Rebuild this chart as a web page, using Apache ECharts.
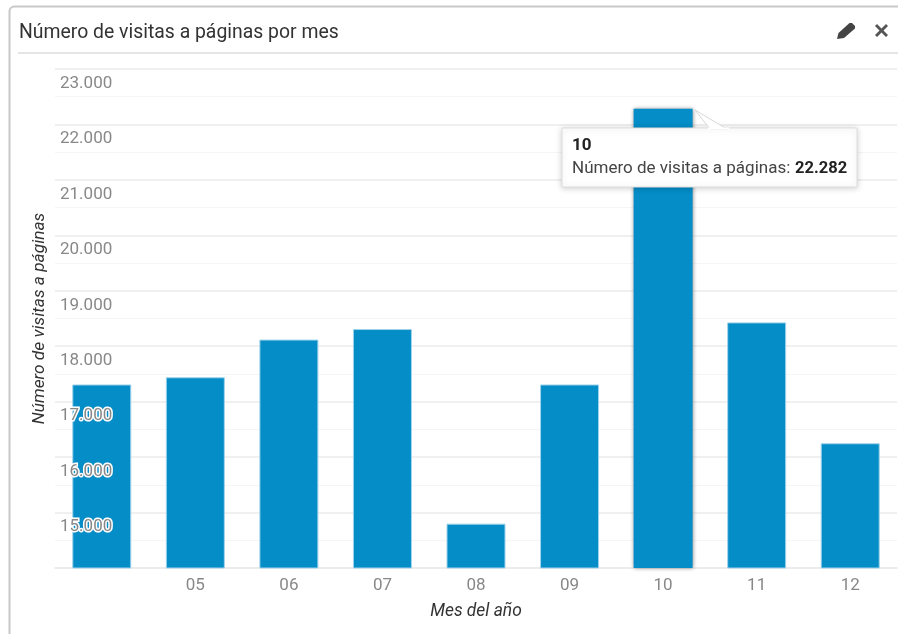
<!DOCTYPE html>
<html>
<head>
<meta charset="utf-8">
<style>html,body{margin:0;padding:0;background:#fff;overflow:hidden}#c{width:898px;height:634px}</style>
<script src="https://cdn.jsdelivr.net/npm/echarts@6/dist/echarts.min.js"></script>
</head>
<body>
<div id="c"></div>
<script>
const panelTitle = 'Número de visitas a páginas por mes';
const xAxisName = 'Mes del año';
const yAxisName = 'Número de visitas a páginas';
const monthLabels = ['', '05', '06', '07', '08', '09', '10', '11', '12'];
const pageVisits = [17310, 17440, 18120, 18310, 14800, 17310, 22282, 18430, 16250];
const selectedIndex = 6;
const seriesName = 'Número de visitas a páginas';

const fmt = v => String(v).replace(/\B(?=(\d{3})+$)/g, '.');
const font = 'Roboto';
const chart = echarts.init(document.getElementById('c'), null, {renderer: 'canvas'});
chart.setOption({
  animation: false,
  backgroundColor: '#fff',
  title: {
    text: panelTitle, left: 14, top: 19,
    textStyle: {fontFamily: font, fontSize: 19.4, fontWeight: 'normal', color: '#333'}
  },
  grid: {left: 55, right: 1, top: 69, bottom: 66},
  xAxis: {
    type: 'category',
    data: monthLabels,
    name: xAxisName,
    nameLocation: 'middle',
    nameGap: 35,
    nameTextStyle: {fontFamily: font, fontSize: 17.4, fontStyle: 'italic', color: '#333'},
    axisTick: {show: false},
    axisLine: {lineStyle: {color: '#ececec', width: 2}},
    axisLabel: {fontFamily: font, fontSize: 17, color: '#888', margin: 9, interval: 0}
  },
  yAxis: [{
    type: 'value',
    min: 14000, max: 23000, interval: 1000,
    name: yAxisName,
    nameLocation: 'middle',
    nameGap: 7,
    nameTextStyle: {fontFamily: font, fontSize: 17.3, fontStyle: 'italic', color: '#333'},
    axisLine: {show: false},
    axisTick: {show: false},
    minorTick: {show: false, splitNumber: 2},
    splitLine: {lineStyle: {color: '#f0f0f0', width: 2}},
    minorSplitLine: {show: true, lineStyle: {color: '#f5f5f5', width: 1}},
    axisLabel: {show: false}
  }, {
    type: 'value',
    position: 'left',
    min: 14000, max: 23000, interval: 1000,
    axisLine: {show: false},
    axisTick: {show: false},
    splitLine: {show: false},
    axisLabel: {
      inside: true, margin: 5, align: 'left', verticalAlign: 'top',
      padding: [6, 0, 0, 0],
      fontFamily: font, fontSize: 17, color: '#888',
      textBorderColor: '#fff', textBorderWidth: 3,
      showMinLabel: false,
      formatter: v => v === 14000 ? '' : fmt(v)
    },
    z: 5
  }],
  series: [{
    type: 'bar',
    name: seriesName,
    barWidth: 59,
    z: 2,
    yAxisIndex: 0,
    itemStyle: {color: '#058dc7', borderColor: '#9fd3ea', borderWidth: 1},
    data: pageVisits.map((v, i) => i === selectedIndex
      ? {value: v, itemStyle: {borderWidth: 0, shadowBlur: 4, shadowColor: '#888'}}
      : v)
  }],
  graphic: [
    {type: 'rect', z: 0, silent: true,
     shape: {x: 9.5, y: 6.5, width: 1000, height: 1000, r: 5},
     style: {fill: 'none', stroke: '#c8c8c8', lineWidth: 2}},
    {type: 'line', z: 0, silent: true,
     shape: {x1: 18, y1: 53, x2: 898, y2: 53},
     style: {stroke: '#e5e5e5', lineWidth: 2}},
    {type: 'polygon', z: 10, silent: true,
     shape: {points: [[837, 39], [838.5, 33], [849.5, 23], [852, 23], [855, 26], [855, 28.5], [844, 38]]},
     style: {fill: '#444'}},
    {type: 'polygon', z: 10, silent: true,
     shape: {points: [[877, 24], [881.5, 28.5], [886, 24], [888, 26], [883.5, 30.5], [888, 35], [886, 37], [881.5, 32.5], [877, 37], [875, 35], [879.5, 30.5], [875, 26]]},
     style: {fill: '#555'}},
    {type: 'rect', z: 20, silent: true,
     shape: {x: 562, y: 128, width: 295, height: 59},
     style: {fill: '#fff', stroke: '#dddddd', lineWidth: 1, shadowBlur: 6, shadowColor: 'rgba(0,0,0,0.18)', shadowOffsetY: 1}},
    {type: 'polygon', z: 21, silent: true,
     shape: {points: [[695, 110], [727, 129], [710, 129]]},
     style: {fill: '#fff', stroke: '#d8d8d8', lineWidth: 1}},
    {type: 'line', z: 22, silent: true,
     shape: {x1: 708, y1: 128.5, x2: 729, y2: 128.5},
     style: {stroke: '#fff', lineWidth: 2}},
    {type: 'text', z: 23, silent: true, x: 572, y: 137,
     style: {text: monthLabels[selectedIndex], fontFamily: font, fontSize: 17, fontWeight: 'bold', fill: '#222'}},
    {type: 'text', z: 23, silent: true, x: 572, y: 160,
     style: {text: seriesName + ':', fontFamily: font, fontSize: 17, fill: '#444'}},
    {type: 'text', z: 23, silent: true, x: 795, y: 160,
     style: {text: fmt(pageVisits[selectedIndex]), fontFamily: font, fontSize: 16.5, fontWeight: 'bold', fill: '#222'}}
  ]
});
</script>
</body>
</html>
